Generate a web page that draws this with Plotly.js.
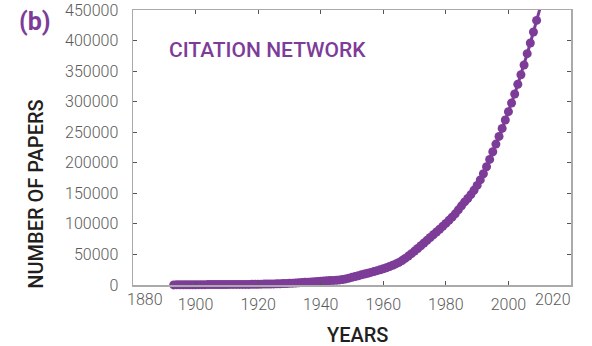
<!DOCTYPE html>
<html>
<head>
<meta charset="utf-8">
<script src="https://cdn.plot.ly/plotly-3.0.1.min.js"></script>
<style>
  html, body { margin: 0; padding: 0; background: #fff; }
  #chart { width: 592px; height: 346px; }
</style>
</head>
<body>
<div id="chart"></div>
<script>
// Yearly count of papers in the citation network
const years = [];
for (let y = 1893; y <= 2010; y++) years.push(y);

const papers = [
  200, 250, 300, 330, 360, 400, 440,                       // 1893-1899
  480, 520, 560, 600, 640, 680, 720, 760, 800, 840,        // 1900-1909
  880, 920, 960, 1000, 1000, 950, 950, 1000, 1050, 1150,   // 1910-1919
  1250, 1350, 1450, 1550, 1650, 1800, 1950, 2100, 2300, 2500, // 1920-1929
  2700, 3000, 3300, 3600, 3900, 4300, 4700, 5100, 5500, 5900, // 1930-1939
  6300, 6700, 7000, 7200, 7500, 7800, 8300, 9000, 10000, 11200, // 1940-1949
  12500, 13800, 15200, 16600, 18000, 19300, 20600, 22000, 23500, 25000, // 1950-1959
  26600, 28300, 30200, 32300, 34500, 37000, 40000, 43500, 47300, 51300, // 1960-1969
  55500, 59800, 64200, 68700, 73200, 77700, 82200, 86700, 91300, 96000, // 1970-1979
  100800, 105800, 111000, 116500, 123000, 129500, 136000, 141500, 148000, 155000, // 1980-1989
  163000, 172000, 182000, 193500, 205500, 218000, 230600, 243100, 256200, 270000, // 1990-1999
  283600, 297900, 312600, 328500, 344000, 360000, 378500, 396000, 414000, 433000, // 2000-2009
  451000                                                    // 2010
];

const xTickVals = [1880, 1900, 1920, 1940, 1960, 1980, 2000, 2020];
const xTickText = ['1880', '1900', '1920', '1940', '1960', '1980', '2000', '2020'];
const yTickVals = [0, 50000, 100000, 150000, 200000, 250000, 300000, 350000, 400000, 450000];

const purple = '#7d3c98';
const xRange = [1880, 2020];
const last = xTickVals.length - 1;

const family = 'Roboto, "Open Sans", sans-serif';
const tickFont = { family: family, size: 16, color: '#5a5a5a', weight: 300 };
const titleFont = { family: family, size: 20, color: '#231f20', weight: 500 };

const trace = {
  x: years,
  y: papers,
  type: 'scatter',
  mode: 'lines+markers',
  line: { color: purple, width: 3 },
  marker: { color: purple, size: 9 },
  cliponaxis: false,
  hoverinfo: 'skip'
};

const axisCommon = {
  type: 'linear',
  showgrid: false,
  zeroline: false,
  showline: true,
  linecolor: '#aaaaaa',
  linewidth: 1.5,
  mirror: 'ticks',
  ticks: 'inside',
  ticklen: 4,
  tickwidth: 1,
  tickcolor: '#555555',
  tickfont: tickFont,
  automargin: false
};

// the two end-year labels sit just inside the frame corners
function edgeLabel(i, shift) {
  return {
    text: xTickText[i],
    xref: 'x', yref: 'paper',
    x: xTickVals[i], y: -0.052,
    xanchor: 'center', yanchor: 'middle',
    xshift: shift,
    showarrow: false,
    font: tickFont
  };
}

const layout = {
  width: 592,
  height: 346,
  margin: { l: 133, r: 21, t: 10, b: 60.5 },
  paper_bgcolor: '#ffffff',
  plot_bgcolor: '#ffffff',
  showlegend: false,
  xaxis: Object.assign({}, axisCommon, {
    range: xRange,
    tickmode: 'array',
    tickvals: xTickVals.slice(1, last),
    ticktext: xTickText.slice(1, last),
    ticklabelstandoff: 4
  }),
  yaxis: Object.assign({}, axisCommon, {
    range: [0, 450000],
    tickmode: 'array',
    tickvals: yTickVals,
    ticktext: yTickVals.map(String),
    ticklabelstandoff: 10
  }),
  annotations: [
    edgeLabel(0, 12),
    edgeLabel(last, -18),
    {
      text: 'YEARS',
      xref: 'paper', yref: 'paper',
      x: 0.5126, y: -0.18,
      xanchor: 'center', yanchor: 'middle',
      showarrow: false,
      font: titleFont
    },
    {
      text: 'NUMBER OF PAPERS',
      xref: 'paper', yref: 'paper',
      x: -0.2215, y: 0.332,
      xanchor: 'center', yanchor: 'middle',
      textangle: -90,
      showarrow: false,
      font: titleFont
    },
    {
      text: '(b)',
      xref: 'paper', yref: 'paper',
      x: -0.2237, y: 0.96,
      xanchor: 'center', yanchor: 'middle',
      showarrow: false,
      font: { family: family, size: 25, color: purple, weight: 700 }
    },
    {
      text: 'CITATION NETWORK',
      xref: 'paper', yref: 'paper',
      x: 0.0776, y: 0.855,
      xanchor: 'left', yanchor: 'middle',
      showarrow: false,
      font: { family: family, size: 21, color: purple, weight: 500 }
    }
  ]
};

Plotly.newPlot('chart', [trace], layout, { displayModeBar: false, staticPlot: true });
</script>
</body>
</html>
